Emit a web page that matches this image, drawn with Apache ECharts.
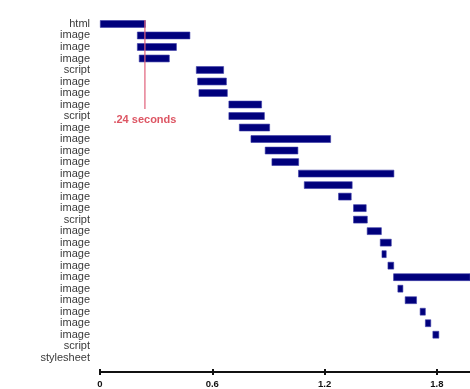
<!DOCTYPE html>
<html>
<head>
<meta charset="utf-8">
<script src="https://cdn.jsdelivr.net/npm/echarts@6/dist/echarts.min.js"></script>
<style>
html,body{margin:0;padding:0;background:#fff;}
#chart{width:470px;height:389px;}
</style>
</head>
<body>
<div id="chart"></div>
<script>
var categories = ['html','image','image','image','script','image','image','image','script','image',
  'image','image','image','image','image','image','image','script','image','image',
  'image','image','image','image','image','image','image','image','script','stylesheet'];
var startTimes = [0, 0.198, 0.198, 0.208, 0.513, 0.520, 0.527, 0.687, 0.687, 0.743,
  0.805, 0.881, 0.917, 1.059, 1.090, 1.273, 1.353, 1.353, 1.426, 1.496,
  1.505, 1.537, 1.567, 1.590, 1.629, 1.709, 1.737, 1.777, null, null];
var endTimes = [0.244, 0.482, 0.410, 0.372, 0.662, 0.677, 0.682, 0.865, 0.880, 0.908,
  1.234, 1.059, 1.063, 1.572, 1.349, 1.344, 1.424, 1.430, 1.505, 1.558,
  1.531, 1.571, 2.100, 1.620, 1.693, 1.740, 1.769, 1.812, null, null];
var xTicks = [0, 0.6, 1.2, 1.8];
var markerTime = 0.24;
var markerText = '.24 seconds';

var durations = startTimes.map(function (s, i) { return s == null ? null : +(endTimes[i] - s).toFixed(3); });

var chart = echarts.init(document.getElementById('chart'), null, {renderer: 'canvas'});
chart.setOption({
  animation: false,
  grid: {left: 100, right: 0, top: 18.2, bottom: 25.2, containLabel: false},
  xAxis: [
    {type: 'value', min: 0, max: 1.977, position: 'bottom', offset: 8.5,
      splitLine: {show: false},
      axisLine: {show: true, onZero: false, lineStyle: {color: '#111', width: 2.2}},
      axisTick: {show: true, length: 3, customValues: xTicks, lineStyle: {color: '#111', width: 2}},
      axisLabel: {customValues: xTicks, color: '#111', fontSize: 9.5, fontWeight: 'bold', fontFamily: 'Liberation Sans', margin: 7,
        formatter: function (v) { return String(v); }}},
    {type: 'value', min: 0, max: 1.977, position: 'bottom', offset: 8.5,
      splitLine: {show: false},
      axisLine: {show: false, onZero: false},
      axisTick: {show: true, inside: true, length: 3, customValues: xTicks, lineStyle: {color: '#111', width: 2}},
      axisLabel: {show: false}}
  ],
  yAxis: [
    {type: 'category', data: categories, inverse: true,
      axisLine: {show: false}, axisTick: {show: false}, splitLine: {show: false},
      axisLabel: {color: '#3a3a3a', fontSize: 11, fontFamily: 'Liberation Sans', margin: 10, interval: 0}},
    {type: 'value', min: 0, max: categories.length, inverse: true, show: false}
  ],
  series: [
    {type: 'bar', stack: 'g', data: startTimes, itemStyle: {color: 'transparent'}, barWidth: 7.5, silent: true},
    {type: 'bar', stack: 'g', data: durations, barWidth: 7.5,
      itemStyle: {color: '#00007c', borderColor: '#3a3aa8', borderWidth: 0.6}},
    {type: 'line', yAxisIndex: 1, data: [[markerTime, 0.16], [markerTime, 7.88]], symbol: 'none',
      lineStyle: {color: '#e0607a', width: 1.2}, z: 5},
    {type: 'scatter', yAxisIndex: 1, data: [[markerTime, 8.8]], symbolSize: 0,
      label: {show: true, position: 'inside', formatter: markerText, color: '#d42a3c', fontSize: 11, fontWeight: 'bold', fontFamily: 'Liberation Sans'}}
  ]
});
</script>
</body>
</html>
